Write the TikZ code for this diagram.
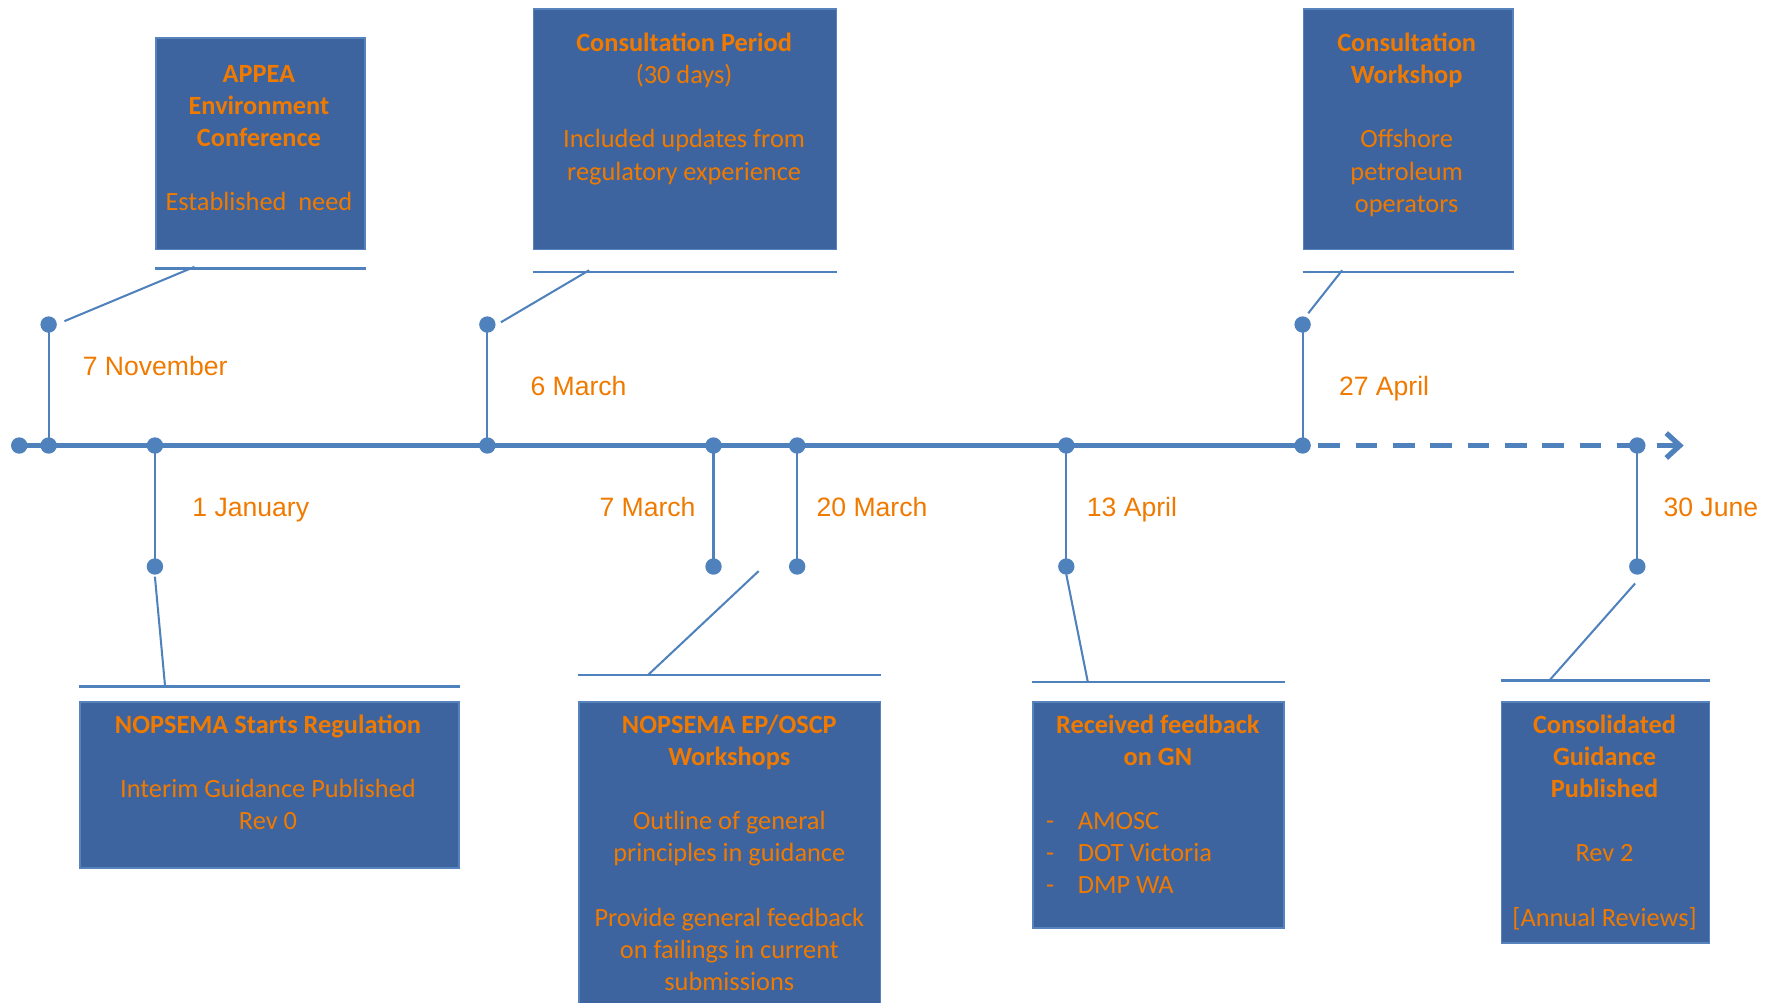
\documentclass[tikz,border=0pt]{standalone}
\usepackage{fontspec}
\newfontfamily\calib{Carlito}
\newfontfamily\arialf{Liberation Sans}
\usetikzlibrary{arrows.meta}
\definecolor{lineblue}{RGB}{79,129,189}
\definecolor{boxblue}{RGB}{61,100,158}
\definecolor{boxedge}{RGB}{86,130,190}
\definecolor{txtorange}{RGB}{240,122,0}
\newcommand\bxfont{\calib\fontsize{23.3}{28.4}\selectfont}
\newcommand\dtfont{\arialf\fontsize{23.5}{28}\selectfont}
\begin{document}
\begin{tikzpicture}[x=1pt,y=-1pt,
  tl/.style={line width=4.6pt, draw=lineblue},
  stem/.style={line width=1.8pt, draw=lineblue},
  uline/.style={line width=2.2pt, draw=lineblue},
  dot/.style={circle, fill=lineblue, inner sep=0pt, minimum size=14.5pt},
  evbox/.style={rectangle, draw=boxedge, line width=1.5pt, fill=boxblue, inner sep=0pt, anchor=north west},
  boxtext/.style={text=txtorange, font=\bxfont, align=center, inner sep=0pt, anchor=north},
  listtext/.style={text=txtorange, font=\bxfont, align=left, inner sep=0pt, anchor=north west},
  datelab/.style={text=txtorange, font=\dtfont, anchor=base west, inner sep=0pt}]
\useasboundingbox (0,0) rectangle (1568,887);

% boxes
\node[evbox, minimum width=185pt, minimum height=187pt] (b1) at (137,33) {};
\node[evbox, minimum width=268pt, minimum height=213pt] (b2) at (471,7) {};
\node[evbox, minimum width=185pt, minimum height=213pt] (b3) at (1152,7) {};
\node[evbox, minimum width=335pt, minimum height=147pt] (b4) at (70,620) {};
\node[evbox, minimum width=267pt, minimum height=269pt] (b5) at (511,620) {};
\node[evbox, minimum width=222pt, minimum height=200pt] (b6) at (913,620) {};
\node[evbox, minimum width=184pt, minimum height=213pt] (b7) at (1327,620) {};

% box texts
\node[boxtext] (t1) at (229,52.6) {\strut\textbf{APPEA}\\\textbf{Environment}\\\textbf{Conference}\\[28.4pt]Established\ \ need};
\node[boxtext] (t2) at (605,25.6) {\strut\textbf{Consultation Period}\\(30 days)\\[28.4pt]Included updates from\\regulatory experience};
\node[boxtext] (t3) at (1244,25.6) {\strut\textbf{Consultation}\\\textbf{Workshop}\\[28.4pt]Offshore\\petroleum\\operators};
\node[boxtext] (t4) at (237,628.6) {\strut\textbf{NOPSEMA Starts Regulation}\\[28.4pt]Interim Guidance Published\\Rev 0};
\node[boxtext] (t5) at (645,628.6) {\strut\textbf{NOPSEMA EP/OSCP}\\\textbf{Workshops}\\[28.4pt]Outline of general\\principles in guidance\\[28.4pt]Provide general feedback\\on failings in current\\submissions};
\node[boxtext] (t6) at (1024,628.6) {\strut\textbf{Received feedback}\\\textbf{on GN}};
\node[listtext] (t6l) at (925,713.6) {\strut\makebox[28pt][l]{-}AMOSC\\\makebox[28pt][l]{-}DOT Victoria\\\makebox[28pt][l]{-}DMP WA};
\node[boxtext] (t7) at (1419,628.6) {\strut\textbf{Consolidated}\\\textbf{Guidance}\\\textbf{Published}\\[28.4pt]Rev 2\\[28.4pt]{[Annual Reviews]}};

% underlines
\draw[uline] ([yshift=-16pt]b1.south west) -- ([yshift=-16pt]b1.south east);
\draw[uline] ([yshift=-19pt]b2.south west) -- ([yshift=-19pt]b2.south east);
\draw[uline] ([yshift=-19pt]b3.south west) -- ([yshift=-19pt]b3.south east);
\draw[uline] ([yshift=13pt]b4.north west) -- ([yshift=13pt]b4.north east);
\draw[uline] ([yshift=23pt]b5.north west) -- ([yshift=23pt]b5.north east);
\draw[uline] ([yshift=17pt]b6.north west) -- ([yshift=17pt]b6.north east);
\draw[uline] ([yshift=18pt]b7.north west) -- ([yshift=18pt]b7.north east);

% timeline dots
\node[dot] (d0) at (17,394) {};
\node[dot] (d1) at (43,394) {};
\node[dot] (d2) at (137,394) {};
\node[dot] (d3) at (431,394) {};
\node[dot] (d4) at (631,394) {};
\node[dot] (d5) at (705,394) {};
\node[dot] (d6) at (943,394) {};
\node[dot] (d7) at (1152,394) {};
\node[dot] (d8) at (1448,394) {};
% stem end dots
\node[dot] (e1) at (43,287) {};
\node[dot] (e3) at (431,287) {};
\node[dot] (e7) at (1152,287) {};
\node[dot] (e2) at (137,501) {};
\node[dot] (e4) at (631,501) {};
\node[dot] (e5) at (705,501) {};
\node[dot] (e6) at (943,501) {};
\node[dot] (e8) at (1448,501) {};

% timeline
\draw[tl] (d0.center) -- (d7.center);
\coordinate (ds) at (1166,394);
\draw[tl, dash pattern=on 19pt off 14pt] (ds) -- (d8.center);
\coordinate (as) at (1465,394);
\coordinate (ae) at (1489,394);
\draw[tl, -{Straight Barb[length=12pt,width=22pt]}] (as) -- (ae);

% stems
\draw[stem] (d1.center) -- (e1.center);
\draw[stem] (d3.center) -- (e3.center);
\draw[stem] (d7.center) -- (e7.center);
\draw[stem] (d2.center) -- (e2.center);
\draw[stem] (d4.center) -- (e4.center);
\draw[stem] (d5.center) -- (e5.center);
\draw[stem] (d6.center) -- (e6.center);
\draw[stem] (d8.center) -- (e8.center);

% connectors
\coordinate (c1a) at (57,284);   \coordinate (c1b) at (172,236);
\coordinate (c2a) at (443,285);  \coordinate (c2b) at (521,239);
\coordinate (c3a) at (1157,277); \coordinate (c3b) at (1187,239);
\coordinate (c4a) at (137,510);  \coordinate (c4b) at (146,607);
\coordinate (c5a) at (671,505);  \coordinate (c5b) at (573,597);
\coordinate (c6a) at (943,508);  \coordinate (c6b) at (962,603);
\coordinate (c7a) at (1446,516); \coordinate (c7b) at (1370,602);
\draw[stem] (c1a) -- (c1b);
\draw[stem] (c2a) -- (c2b);
\draw[stem] (c3a) -- (c3b);
\draw[stem] (c4a) -- (c4b);
\draw[stem] (c5a) -- (c5b);
\draw[stem] (c6a) -- (c6b);
\draw[stem] (c7a) -- (c7b);

% date labels
\node[datelab] (l1) at (73,332.5) {7 November};
\node[datelab] (l3) at (469,349.5) {6 March};
\node[datelab] (l7) at (1184,349.5) {27 April};
\node[datelab] (l2) at (170,456.5) {1 January};
\node[datelab] (l4) at (530,456.5) {7 March};
\node[datelab] (l5) at (722,456.5) {20 March};
\node[datelab] (l6) at (961,456.5) {13 April};
\node[datelab] (l8) at (1471,456.5) {30 June};
\end{tikzpicture}
\end{document}
